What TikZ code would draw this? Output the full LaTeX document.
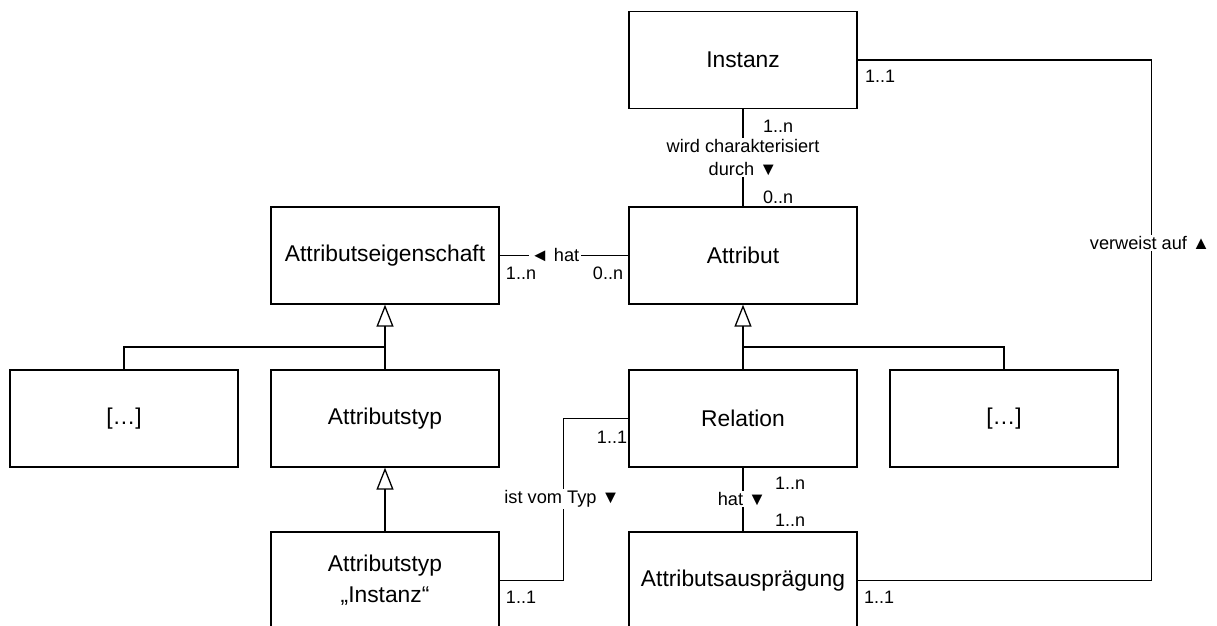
\documentclass[tikz,border=0pt]{standalone}
\usepackage{fontspec}
\setmainfont{Liberation Sans}
\usetikzlibrary{arrows.meta}
\begin{document}
\begin{tikzpicture}[x=1pt,y=-1pt,
  line/.style={line width=1.3pt},
  cls/.style={draw, line width=1.3pt, minimum width=228pt, minimum height=97pt,
    inner sep=0pt, align=center, font=\fontsize{22.8}{31}\selectfont},
  inh/.style={line, -{Triangle[open, length=22pt, width=17pt]}},
  lbl/.style={fill=white, inner sep=1.5pt, align=center,
    font=\fontsize{18.2}{22.5}\selectfont},
  mult/.style={inner sep=0pt, font=\fontsize{18}{21}\selectfont}]
\useasboundingbox (0,0) rectangle (1217,625);
\clip (0,0) rectangle (1217,625);

% classes
\node[cls] (inst)  at (743,60)    {Instanz};
\node[cls] (attr)  at (743,255.5) {Attribut};
\node[cls] (eig)   at (385,255.5) {Attributseigenschaft};
\node[cls] (dotsL) at (124,418.5) {[…]};
\node[cls] (typ)   at (385,418.5) {Attributstyp};
\node[cls] (rel)   at (743,418.5) {Relation};
\node[cls] (dotsR) at (1004,418.5){[…]};
\node[cls] (typI)  at (385,580.5) {Attributstyp\\„Instanz“};
\node[cls] (auspr) at (743,580.5) {Attributsausprägung};

% generalisation trees
\coordinate (jA) at (743,347);
\coordinate (jE) at (385,347);
\draw[inh] (rel.north) -- (attr.south);
\draw[line] (dotsR.north) |- (jA);
\draw[inh] (typ.north) -- (eig.south);
\draw[line] (dotsL.north) |- (jE);
\draw[inh] (typI.north) -- (typ.south);

% Instanz -- Attribut
\draw[line] (inst) -- (attr);
\node[lbl] (lwc) at (743,157.5) {wird charakterisiert\\durch ▼};
\node[mult] (m1) at (778,126) {1..n};
\node[mult] (m2) at (778,197) {0..n};

% Attributseigenschaft -- Attribut
\draw[line] (eig) -- (attr);
\node[lbl] (lhat) at (555,255) {◄ hat};
\node[mult] (m3) at (521,273) {1..n};
\node[mult] (m4) at (608,273) {0..n};

% Relation -- Attributsauspraegung
\draw[line] (rel) -- (auspr);
\node[lbl] (lhat2) at (742,499) {hat ▼};
\node[mult] (m5) at (790,483) {1..n};
\node[mult] (m6) at (790,520) {1..n};

% Relation -- Attributstyp Instanz
\draw[line] (rel.west) -- ++(-65,0) |- (typI.east);
\node[lbl] (ltyp) at (562,499) {ist vom Typ ▼};
\node[mult] (m7) at (612,437) {1..1};
\node[mult] (m8) at (521,597) {1..1};

% Instanz -- Attributsauspraegung
\draw[line] (inst.east) -- ++(294,0) |- (auspr.east);
\node[lbl] (lver) at (1150,243) {verweist auf ▲};
\node[mult] (m9) at (880,76) {1..1};
\node[mult] (m10) at (879,597) {1..1};
\end{tikzpicture}
\end{document}
